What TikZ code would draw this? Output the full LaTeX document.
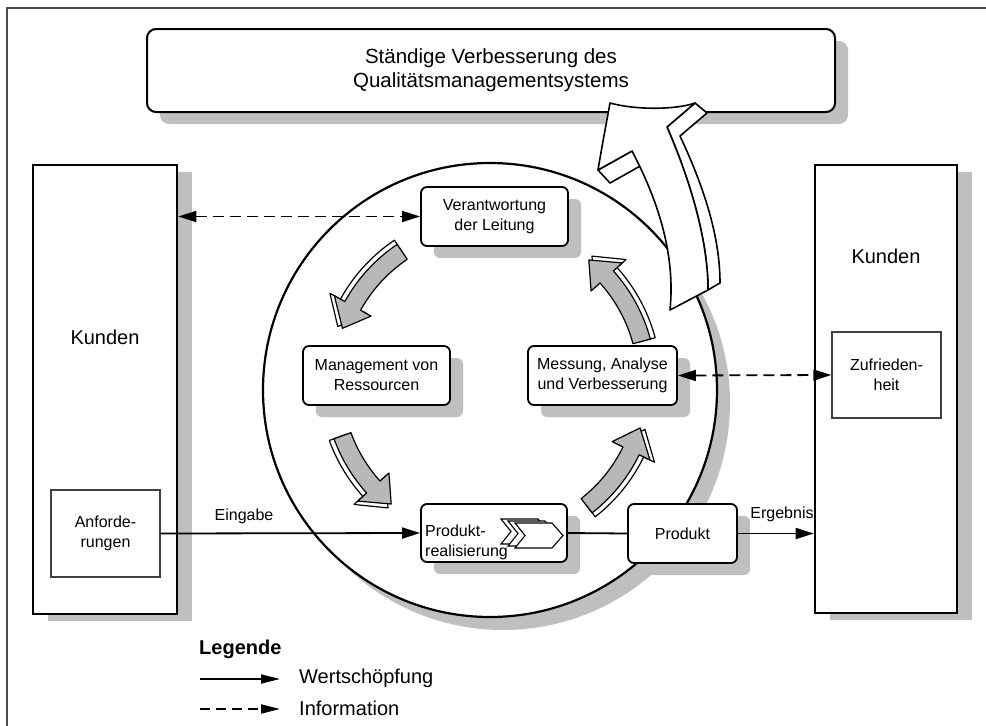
\documentclass[tikz,border=0pt]{standalone}
\usepackage{fontspec}
\setmainfont{Liberation Sans}
\usetikzlibrary{arrows.meta,shadows}

% ring arrow between two angles on a circle of given radius (pt)
\newcommand{\cyclearrow}[4]{%
  \pgfmathsetmacro\ca{#1}%
  \pgfmathsetmacro\cb{#2-9}%
  \pgfmathsetmacro\ct{#2}%
  \pgfmathsetmacro\ri{#3-9}%
  \pgfmathsetmacro\ro{#3+9}%
  \pgfmathsetmacro\hi{#3-21}%
  \pgfmathsetmacro\ho{#3+21}%
  \path[draw=black, line width=1.2pt, line join=round, fill=#4]
    (\ca:\ri pt) arc[start angle=\ca, end angle=\cb, radius=\ri pt]
    -- (\cb:\hi pt) -- (\ct:#3pt) -- (\cb:\ho pt) -- (\cb:\ro pt)
    arc[start angle=\cb, end angle=\ca, radius=\ro pt] -- cycle;
}
\newcommand{\ribbonarrow}[2]{%
  \cyclearrow{#1}{#2}{162}{white}%
  \cyclearrow{#1}{#2}{157}{black!28}%
}

\begin{document}
\begin{tikzpicture}[x=1pt,y=-1pt,
  shadowed/.style={drop shadow={shadow xshift=13pt, shadow yshift=-12pt, fill=black!25, opacity=1}},
  procbox/.style={draw, fill=white, line width=1.8pt, rounded corners=6pt, align=center,
    inner sep=0pt, font=\fontsize{16}{20}\selectfont, shadowed},
  custbox/.style={draw, fill=white, line width=2.6pt, inner sep=0pt,
    drop shadow={shadow xshift=15pt, shadow yshift=-7pt, fill=black!25, opacity=1}},
  needbox/.style={draw=black!75, fill=white, line width=1.4pt, inner sep=0pt, align=center,
    font=\fontsize{16}{20}\selectfont},
  flow/.style={line width=1.8pt, -{Triangle[length=18pt,width=11pt]}},
  info/.style={line width=1.8pt, dash pattern=on 11pt off 6pt,
    {Triangle[length=18pt,width=11pt]}-{Triangle[length=18pt,width=11pt]}},
  lbl/.style={font=\fontsize{16}{20}\selectfont, inner sep=0pt},
  biglbl/.style={font=\fontsize{20}{24}\selectfont, inner sep=0pt},
  bigarrow/.style={draw, fill=white, line width=1.6pt, line join=round}]

\useasboundingbox (0,0) rectangle (986,726);

% outer frame
\draw[black!70, line width=1.5pt] (7,726) -- (7,8) -- (986,8);

% banner
\node[draw, fill=white, line width=2pt, rounded corners=9pt, minimum width=688pt,
  minimum height=83pt, align=center, font=\fontsize{20.5}{24}\selectfont,
  drop shadow={shadow xshift=13pt, shadow yshift=-12pt, fill=black!25, opacity=1}]
  (banner) at (491,70.5) {Ständige Verbesserung des\\Qualitätsmanagementsystems};

% customers
\node[custbox, minimum width=144pt, minimum height=449pt] (kundenL) at (105,389.5) {};
\node[biglbl] (kundenLtxt) at (105,337) {Kunden};
\node[needbox, minimum width=109pt, minimum height=87pt] (anf) at (105.5,533.5) {Anforde-\\rungen};

\node[custbox, minimum width=142pt, minimum height=448pt] (kundenR) at (886,389) {};
\node[biglbl] (kundenRtxt) at (886,256) {Kunden};
\node[needbox, minimum width=109pt, minimum height=86pt] (zuf) at (886.5,375) {Zufrieden-\\heit};

% process circle
\node[circle, draw, fill=white, line width=2.2pt, minimum size=454pt, inner sep=0pt,
  drop shadow={shadow xshift=13pt, shadow yshift=-13pt, fill=black!25, opacity=1}]
  (ring) at (490,390) {};

% processes
\node[procbox, minimum width=147pt, minimum height=59pt] (verant) at (494.5,216.5) {Verantwortung\\der Leitung};
\node[procbox, minimum width=147pt, minimum height=59pt] (mgmt) at (376.5,375.5) {Management von\\Ressourcen};
\node[procbox, minimum width=149pt, minimum height=59pt] (mess) at (602.5,375.5) {Messung, Analyse\\und Verbesserung};
\node[procbox, minimum width=146pt, minimum height=58pt] (real) at (494,533) {};
\node[lbl, anchor=west, align=left, font=\fontsize{16}{20}\selectfont] (realtxt) at (425,542) {Produkt-\\realisierung};
\node[procbox, minimum width=109pt, minimum height=59pt] (produkt) at (682.5,533.5) {Produkt};

% chevrons inside the realisation box
\foreach \dx/\dy in {-14/-4, -7/-2, 0/0}
  \draw[fill=white, line width=1.1pt, line join=miter, shift={(\dx,\dy)}]
    (515,523) -- (552,523) -- (563,535.5) -- (552,548) -- (515,548) -- (525,535.5) -- cycle;

% value flow
\draw[flow] (anf.east) -- (real.west);
\node[lbl] (eingabe) at (244,516) {Eingabe};
\draw[line width=1.8pt] (real.east) -- (produkt.west);
\draw[flow] (produkt.east) -- (produkt.east -| kundenR.west);
\node[lbl] (ergebnis) at (782,514) {Ergebnis};

% information flow
\draw[info] (verant.west -| kundenL.east) -- (verant.west);
\draw[info] (mess.east) -- (zuf.west);

% cycle arrows
\begin{scope}[shift={(490,382)}]
  \ribbonarrow{15}{51}
  \ribbonarrow{124}{160}
  \ribbonarrow{200}{231}
  \ribbonarrow{308}{343}
\end{scope}

% continual improvement arrow
\path[bigarrow] (695,103) -- (707,113) -- (680,136)
  .. controls (703,185) and (720,235) .. (720,283) -- (708,290)
  .. controls (708,240) and (690,180) .. (667,127) -- cycle;
\path[bigarrow] (598,170) -- (610,183) -- (642,165) -- (632,151) -- cycle;
\path[bigarrow] (610,103) .. controls (635,110) and (675,110) .. (695,103)
  -- (667,127) .. controls (690,180) and (708,240) .. (708,290)
  -- (670,310) .. controls (676,250) and (655,195) .. (632,151)
  -- (598,170) .. controls (603,140) and (607,120) .. (610,103) -- cycle;

% legend
\node[font=\fontsize{20}{24}\selectfont\bfseries, anchor=west, inner sep=0pt] (legende) at (199,649) {Legende};
\coordinate (wa) at (200,679);
\coordinate (wb) at (280,679);
\draw[line width=1.8pt, -{Triangle[length=19pt,width=9pt]}] (wa) -- (wb);
\node[biglbl, anchor=west] (wert) at (299,678) {Wertschöpfung};
\coordinate (ia) at (200,709);
\coordinate (ib) at (280,709);
\draw[line width=1.8pt, dash pattern=on 10pt off 6pt, -{Triangle[length=19pt,width=9pt]}] (ia) -- (ib);
\node[biglbl, anchor=west] (infotxt) at (299,708) {Information};

\end{tikzpicture}
\end{document}
